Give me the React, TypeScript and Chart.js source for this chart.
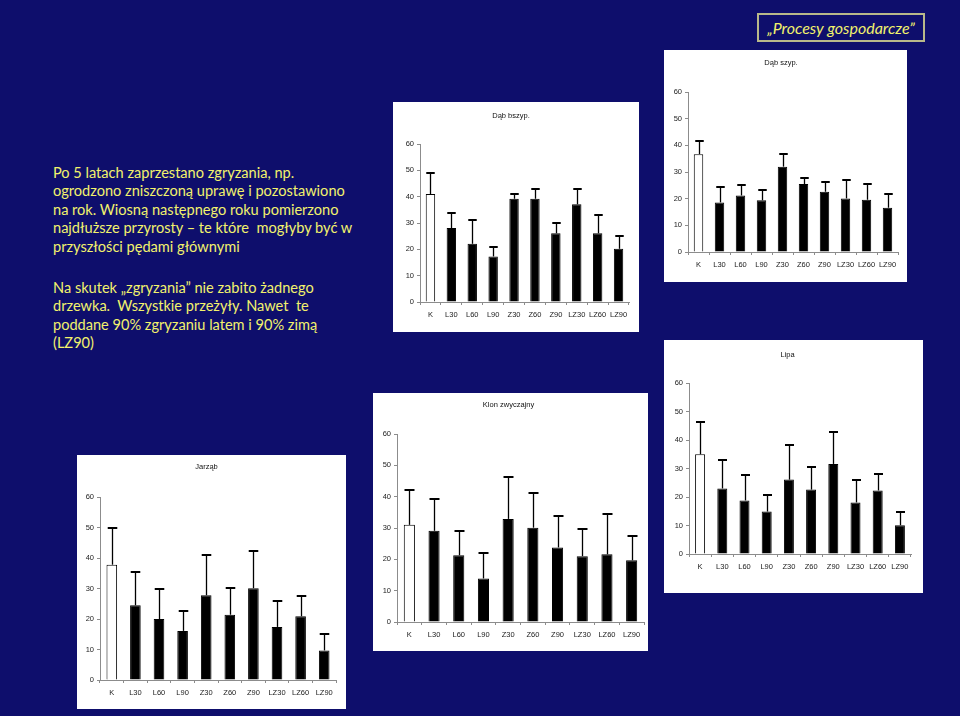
import React, { useEffect, useRef } from "react";
import { Chart, registerables } from "chart.js";

Chart.register(...registerables);

// ---------- data ----------
const categories = ["K", "L30", "L60", "L90", "Z30", "Z60", "Z90", "LZ30", "LZ60", "LZ90"];
const yTickValues = [0, 10, 20, 30, 40, 50, 60];

const dabSzypMeans = [36.7, 18.6, 21.2, 19.4, 32.0, 25.5, 22.6, 20.1, 19.6, 16.6];
const dabSzypErrors = [4.8, 5.9, 3.9, 4.0, 4.7, 2.4, 3.8, 6.9, 5.9, 5.3];

const dabBszypMeans = [41.0, 28.1, 22.1, 17.3, 39.2, 39.2, 26.1, 37.1, 26.1, 20.2];
const dabBszypErrors = [8.1, 5.8, 8.9, 3.6, 1.9, 3.8, 3.8, 5.9, 7.1, 4.9];

const lipaMeans = [35.0, 23.0, 18.8, 14.9, 26.1, 22.6, 31.6, 18.1, 22.3, 10.1];
const lipaErrors = [11.2, 10.0, 8.9, 5.8, 12.0, 7.9, 11.1, 7.9, 5.8, 4.8];

const klonMeans = [31.0, 29.1, 21.3, 13.9, 32.9, 30.1, 23.8, 21.0, 21.6, 19.7];
const klonErrors = [11.2, 10.2, 7.7, 8.1, 13.3, 11.1, 10.1, 8.8, 12.9, 7.8];

const jarzabMeans = [37.8, 24.5, 20.0, 16.1, 27.8, 21.4, 30.1, 17.4, 20.9, 9.7];
const jarzabErrors = [12.0, 10.9, 10.0, 6.5, 13.2, 8.9, 12.3, 8.6, 6.8, 5.5];

const headerText = "„Procesy gospodarcze”";
const paragraph1 = [
  "Po 5 latach zaprzestano zgryzania, np.",
  "ogrodzono zniszczoną uprawę i pozostawiono",
  "na rok. Wiosną następnego roku pomierzono",
  "najdłuższe przyrosty – te które  mogłyby być w",
  "przyszłości pędami głównymi",
];
const paragraph2 = [
  "Na skutek „zgryzania” nie zabito żadnego",
  "drzewka.  Wszystkie przeżyły. Nawet  te",
  "poddane 90% zgryzaniu latem i 90% zimą",
  "(LZ90)",
];

// ---------- styles ----------
const NAVY = "#0e0e6c";
const YELLOW = "#f2f26c";
const AXIS = "#8c8c8c";
const FONT = "'Liberation Sans', Arial, sans-serif";
const FONT_SIZE = 7.5;

const errorBarPlugin = {
  id: "errorBars",
  afterDatasetsDraw(chart: any, _args: any, opts: any) {
    const errs: number[] = opts && opts.errors;
    if (!errs) return;
    const meta = chart.getDatasetMeta(0);
    const ys = chart.scales.y;
    const vals = chart.data.datasets[0].data as number[];
    const ctx = chart.ctx;
    ctx.save();
    ctx.strokeStyle = "#000";
    meta.data.forEach((bar: any, i: number) => {
      const x = Math.round(bar.x) + 0.5;
      const y0 = ys.getPixelForValue(vals[i]);
      const y1 = Math.round(ys.getPixelForValue(vals[i] + errs[i]));
      const half = bar.width * 0.45;
      ctx.lineWidth = 1.3;
      ctx.beginPath();
      ctx.moveTo(x, y0);
      ctx.lineTo(x, y1);
      ctx.stroke();
      ctx.lineWidth = 2;
      ctx.beginPath();
      ctx.moveTo(x - half, y1);
      ctx.lineTo(x + half, y1);
      ctx.stroke();
    });
    ctx.restore();
  },
};

type PanelProps = {
  title: string;
  means: number[];
  errors: number[];
  left: number;
  top: number;
  width: number;
  height: number;
  titleY: number;
  axisLeft: number;
  plotTop: number;
  plotBottom: number;
  rightPad: number;
};

function Panel(p: PanelProps) {
  const ref = useRef<HTMLCanvasElement | null>(null);
  useEffect(() => {
    if (!ref.current) return;
    const half = (FONT_SIZE * 1.2) / 2;
    const chart = new Chart(ref.current, {
      type: "bar",
      data: {
        labels: categories,
        datasets: [
          {
            data: p.means,
            backgroundColor: p.means.map((_, i) => (i === 0 ? "#ffffff" : "#000000")),
            borderColor: "#000000",
            borderWidth: 1,
            barPercentage: 0.45,
            categoryPercentage: 1,
          },
        ],
      },
      options: {
        responsive: false,
        animation: false,
        devicePixelRatio: 1,
        layout: { padding: { left: 0, top: 0, right: p.rightPad, bottom: 0 } },
        plugins: {
          legend: { display: false },
          tooltip: { enabled: false },
          title: {
            display: true,
            text: p.title,
            color: "#111",
            font: { family: FONT, size: FONT_SIZE, weight: "normal", lineHeight: 1.2 },
            padding: { top: p.titleY - half, bottom: p.plotTop - p.titleY - half },
          },
          errorBars: { errors: p.errors },
        } as any,
        scales: {
          x: {
            type: "category",
            offset: true,
            grid: {
              display: true,
              drawOnChartArea: false,
              drawTicks: true,
              tickLength: 3,
              color: AXIS,
              offset: true,
            },
            border: { display: true, color: AXIS, width: 1 },
            ticks: {
              color: "#222",
              font: { family: FONT, size: FONT_SIZE },
              padding: 5,
              maxRotation: 0,
              autoSkip: false,
            },
            afterFit: (s: any) => {
              s.height = p.height - p.plotBottom;
            },
          },
          y: {
            min: 0,
            max: 60,
            grid: {
              display: true,
              drawOnChartArea: false,
              drawTicks: true,
              tickLength: 3,
              color: AXIS,
            },
            border: { display: true, color: AXIS, width: 1 },
            ticks: {
              color: "#222",
              font: { family: FONT, size: FONT_SIZE },
              padding: 3,
            },
            afterBuildTicks: (s: any) => {
              s.ticks = yTickValues.map((v) => ({ value: v }));
            },
            afterFit: (s: any) => {
              s.width = p.axisLeft;
            },
          },
        } as any,
      },
      plugins: [errorBarPlugin],
    });
    return () => chart.destroy();
  }, []);
  return (
    <div
      style={{
        position: "absolute",
        left: p.left,
        top: p.top,
        width: p.width,
        height: p.height,
        background: "#ffffff",
      }}
    >
      <canvas ref={ref} width={p.width} height={p.height} style={{ display: "block" }} />
    </div>
  );
}

const textStyle: React.CSSProperties = {
  position: "absolute",
  left: 53,
  color: YELLOW,
  fontFamily: "Lato, 'Open Sans', sans-serif",
  fontSize: 15.5,
  lineHeight: "18.4px",
  whiteSpace: "pre",
  transform: "scaleX(0.94)",
  transformOrigin: "left top",
};

export default function App() {
  return (
    <div
      style={{
        position: "fixed",
        left: 0,
        top: 0,
        width: 960,
        height: 716,
        background: NAVY,
        overflow: "hidden",
      }}
    >
      <div
        style={{
          position: "absolute",
          left: 757,
          top: 13,
          width: 168,
          height: 29,
          boxSizing: "border-box",
          border: "2px solid #b8b88a",
          color: YELLOW,
          fontFamily: "Lato, sans-serif",
          fontStyle: "italic",
          fontSize: 16,
          display: "flex",
          alignItems: "center",
          justifyContent: "center",
        }}
      >
        {headerText}
      </div>

      <div style={{ ...textStyle, top: 163 }}>{paragraph1.join("\n")}</div>
      <div style={{ ...textStyle, top: 278 }}>{paragraph2.join("\n")}</div>

      <Panel title="Dąb szyp." means={dabSzypMeans} errors={dabSzypErrors}
        left={664} top={50} width={243} height={232} titleY={13} axisLeft={24} plotTop={42} plotBottom={202} rightPad={9} />
      <Panel title="Dąb bszyp." means={dabBszypMeans} errors={dabBszypErrors}
        left={393} top={102} width={246} height={230} titleY={14} axisLeft={27} plotTop={42} plotBottom={200} rightPad={10} />
      <Panel title="Lipa" means={lipaMeans} errors={lipaErrors}
        left={664} top={340} width={259} height={253} titleY={15} axisLeft={25} plotTop={43} plotBottom={214} rightPad={12} />
      <Panel title="Klon zwyczajny" means={klonMeans} errors={klonErrors}
        left={373} top={393} width={275} height={258} titleY={12} axisLeft={24} plotTop={41} plotBottom={229} rightPad={4} />
      <Panel title="Jarząb" means={jarzabMeans} errors={jarzabErrors}
        left={77} top={455} width={269} height={254} titleY={12} axisLeft={23} plotTop={42} plotBottom={225} rightPad={10} />
    </div>
  );
}
